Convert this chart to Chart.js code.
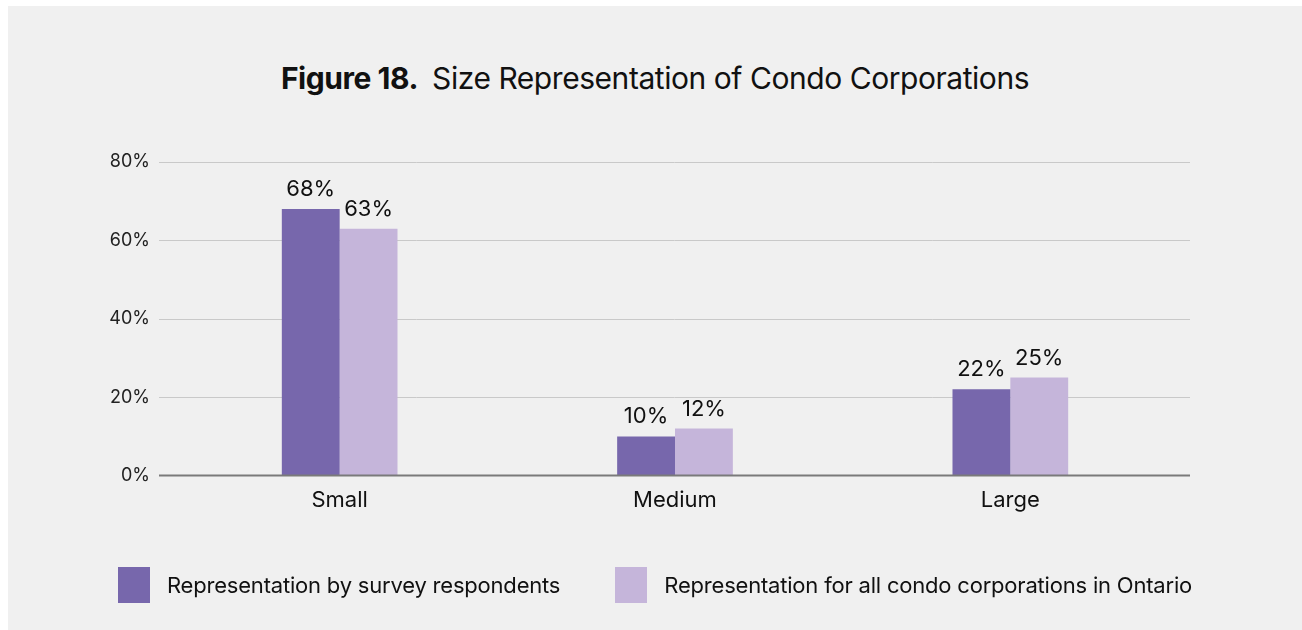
<!DOCTYPE html>
<html>
<head>
<meta charset="utf-8">
<script src="https://cdn.jsdelivr.net/npm/chart.js@4"></script>
<style>
  html, body { margin: 0; padding: 0; background: #ffffff; }
  #panel {
    position: absolute; left: 8px; top: 6px;
    width: 1294px; height: 624px;
    background: #f0f0f0;
    font-family: Inter, "Liberation Sans", sans-serif;
    color: #111111;
  }
  #title {
    position: absolute; left: 0; right: 0; top: 54px;
    text-align: center;
    font-size: 30px;
    letter-spacing: -0.45px;
  }
  #title b { font-weight: 700; margin-right: 6px; }
  #chartBox { position: absolute; left: 0; top: 0; width: 1294px; height: 624px; }
  #legend {
    position: absolute; left: 0; right: 0; top: 561px;
    display: flex; justify-content: center; gap: 55px;
    font-size: 22px; letter-spacing: -0.2px;
  }
  .item { display: flex; align-items: center; gap: 17px; }
  .swatch { width: 32px; height: 36px; }
</style>
</head>
<body>
<div id="panel">
  <div id="title"><b>Figure 18.</b> Size Representation of Condo Corporations</div>
  <div id="chartBox"><canvas id="sizeChart"></canvas></div>
  <div id="legend"></div>
</div>
<script>
const categories = ["Small", "Medium", "Large"];
const surveyRespondents = [68, 10, 22];
const allOntario = [63, 12, 25];
const seriesNames = [
  "Representation by survey respondents",
  "Representation for all condo corporations in Ontario"
];
const seriesColors = ["#7767ac", "#c5b5da"];

const fontFamily = "Inter, 'Liberation Sans', sans-serif";

// horizontal grid lines, a little wider than the bar area
const gridLines = {
  id: "gridLines",
  beforeDatasetsDraw(chart) {
    const { ctx, chartArea, scales } = chart;
    ctx.save();
    ctx.strokeStyle = "#c9c9c9";
    ctx.lineWidth = 1;
    scales.y.ticks.forEach((tick) => {
      if (tick.value === 0) return;
      const y = Math.round(scales.y.getPixelForValue(tick.value)) + 0.5;
      ctx.beginPath();
      ctx.moveTo(chartArea.left - 13, y);
      ctx.lineTo(chartArea.right + 12, y);
      ctx.stroke();
    });
    ctx.restore();
  },
  afterDatasetsDraw(chart) {
    // zero line goes on top of the bars
    const { ctx, chartArea, scales } = chart;
    const y = scales.y.getPixelForValue(0);
    ctx.save();
    ctx.strokeStyle = "#7a7a7a";
    ctx.lineWidth = 2;
    ctx.beginPath();
    ctx.moveTo(chartArea.left - 13, y);
    ctx.lineTo(chartArea.right + 12, y);
    ctx.stroke();
    ctx.restore();
  }
};

// draws the value above each bar
const valueLabels = {
  id: "valueLabels",
  afterDatasetsDraw(chart) {
    const ctx = chart.ctx;
    ctx.save();
    ctx.font = "22px " + fontFamily;
    ctx.fillStyle = "#111111";
    ctx.textAlign = "center";
    ctx.textBaseline = "alphabetic";
    chart.data.datasets.forEach((dataset, i) => {
      chart.getDatasetMeta(i).data.forEach((bar, j) => {
        ctx.fillText(dataset.data[j] + "%", bar.x, bar.y - 13);
      });
    });
    ctx.restore();
  }
};

const buildLegend = (chart) => {
  const box = document.getElementById("legend");
  box.innerHTML = "";
  chart.data.datasets.forEach((dataset) => {
    const item = document.createElement("div");
    item.className = "item";
    const swatch = document.createElement("span");
    swatch.className = "swatch";
    swatch.style.background = dataset.backgroundColor;
    const text = document.createElement("span");
    text.textContent = dataset.label;
    item.append(swatch, text);
    box.append(item);
  });
};

document.addEventListener("DOMContentLoaded", () => {
  const context = document.getElementById("sizeChart").getContext("2d");

  const chart = new Chart(context, {
    type: "bar",
    data: {
      labels: categories,
      datasets: [
        {
          label: seriesNames[0],
          data: surveyRespondents,
          backgroundColor: seriesColors[0]
        },
        {
          label: seriesNames[1],
          data: allOntario,
          backgroundColor: seriesColors[1]
        }
      ]
    },
    options: {
      responsive: true,
      maintainAspectRatio: false,
      animation: false,
      layout: { padding: { top: 156, left: 0, right: 0, bottom: 112 } },
      datasets: {
        bar: { categoryPercentage: 0.345, barPercentage: 1 }
      },
      scales: {
        x: {
          grid: { display: false },
          border: { display: false },
          ticks: {
            color: "#111111",
            font: { family: fontFamily, size: 22 },
            padding: 4
          }
        },
        y: {
          min: 0,
          max: 80,
          border: { display: false },
          grid: { display: false },
          afterFit: (scale) => { scale.width = 164; },
          ticks: {
            stepSize: 20,
            color: "#222222",
            padding: 14,
            font: { family: fontFamily, size: 18 },
            callback: (value) => value + "%"
          }
        },
        // empty axis that only keeps room on the right
        yRight: {
          position: "right",
          border: { display: false },
          grid: { display: false },
          ticks: { display: false },
          afterFit: (scale) => { scale.width = 124; }
        }
      },
      plugins: {
        title: { display: false },
        tooltip: { enabled: false },
        legend: { display: false }
      }
    },
    plugins: [gridLines, valueLabels]
  });

  buildLegend(chart);
});
</script>
</body>
</html>
